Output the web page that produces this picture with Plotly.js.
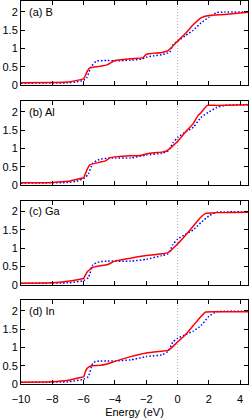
<!DOCTYPE html>
<html><head><meta charset="utf-8">
<script src="https://cdn.plot.ly/plotly-3.0.1.min.js"></script>
<style>html,body{margin:0;padding:0;background:#fff;}#c{width:249px;height:418px;}</style>
</head><body><div id="c"></div>
<script>
const panelLabels = ["(a) B", "(b) Al", "(c) Ga", "(d) In"];

const redX_a = [-10,-8,-7,-6.5,-6,-5.85,-5.75,-5.6,-5,-4.5,-4,-3,-2.2,-2,-1,-0.6,0,0.5,1,1.5,2,3,4.5];
const redY_a = [0.06,0.07,0.08,0.12,0.17,0.3,0.39,0.47,0.51,0.55,0.67,0.72,0.75,0.84,0.89,0.94,1.2,1.41,1.65,1.84,1.9,1.93,1.99];
const blueX_a = [-10,-7,-6.5,-6,-5.8,-5.5,-5.2,-4.5,-4,-3,-2.3,-2,-1.5,-1,-0.5,-0.3,0,0.5,1,1.5,2,2.5,3,4.5];
const blueY_a = [0.05,0.06,0.08,0.13,0.2,0.51,0.65,0.67,0.66,0.68,0.71,0.76,0.8,0.83,0.9,1.1,1.2,1.35,1.5,1.7,1.85,1.98,2.0,2.0];

const redX_b = [-10,-8,-7,-6.5,-6,-5.9,-5.75,-5.6,-5.4,-5,-4.6,-4.3,-4,-3,-2.5,-2,-1.5,-1,-0.7,0,0.5,1,1.3,1.5,1.9,2.5,4.5];
const redY_b = [0.06,0.07,0.1,0.15,0.2,0.3,0.45,0.55,0.58,0.62,0.66,0.75,0.77,0.8,0.8,0.85,0.88,0.9,0.93,1.19,1.45,1.68,1.9,1.98,2.18,2.18,2.2];
const blueX_b = [-10,-7,-6.5,-6,-5.7,-5.4,-5,-4.5,-4,-3,-2,-1,-0.6,-0.3,0,0.5,1,1.5,2,2.5,3,4.5];
const blueY_b = [0.05,0.07,0.1,0.17,0.3,0.6,0.7,0.73,0.74,0.74,0.82,0.87,0.93,1.15,1.3,1.45,1.58,1.85,2.0,2.12,2.18,2.2];

const redX_c = [-10,-8,-7,-6.3,-6,-5.9,-5.75,-5.6,-5.5,-5,-4.5,-4,-3,-2,-1,-0.6,0,0.5,1,1.5,1.8,2.5,4.5];
const redY_c = [0.05,0.06,0.1,0.15,0.18,0.26,0.37,0.42,0.47,0.52,0.55,0.65,0.73,0.8,0.85,0.88,1.12,1.35,1.6,1.85,1.95,1.97,1.98];
const blueX_c = [-10,-7,-6,-5.7,-5.4,-5,-4.5,-3,-2,-1,-0.6,-0.3,0,0.5,1,1.5,2,2.5,3,4.5];
const blueY_c = [0.05,0.06,0.12,0.2,0.55,0.63,0.65,0.65,0.7,0.8,0.85,1.1,1.25,1.38,1.5,1.7,1.88,1.98,1.99,1.99];

const redX_d = [-10,-8,-7,-6.3,-6,-5.9,-5.8,-5.5,-5,-4.5,-4,-3,-2,-1,-0.6,0,0.5,1,1.5,1.8,2.5,4.5];
const redY_d = [0.05,0.06,0.1,0.17,0.2,0.32,0.42,0.5,0.51,0.55,0.62,0.75,0.85,0.9,0.92,1.15,1.35,1.6,1.85,1.97,1.98,1.98];
const blueX_d = [-10,-7,-6,-5.7,-5.4,-5,-4.5,-4,-3,-2,-1,-0.6,-0.3,0,0.5,1,1.5,2,2.5,3,4.5];
const blueY_d = [0.05,0.06,0.13,0.2,0.58,0.63,0.63,0.63,0.66,0.75,0.8,0.9,1.15,1.25,1.35,1.45,1.6,1.85,1.98,1.99,1.99];

const xTicks = [-10,-8,-6,-4,-2,0,2,4];
const yTicks = [0,0.5,1,1.5,2];
const yTickText = ["0","0.5","1","1.5","2"];

const reds = [[redX_a,redY_a],[redX_b,redY_b],[redX_c,redY_c],[redX_d,redY_d]];
const blues = [[blueX_a,blueY_a],[blueX_b,blueY_b],[blueX_c,blueY_c],[blueX_d,blueY_d]];

const domains = [[0.7807,1.0],[0.5196,0.7389],[0.2585,0.4791],[0,0.2193]];
const font = {family:"Liberation Sans, Arial, sans-serif", size:11, color:"#000"};

const traces = [];
const layout = {
  width:249, height:418,
  margin:{l:21, r:1, t:1, b:34},
  paper_bgcolor:"#fff", plot_bgcolor:"#fff",
  showlegend:false, font:font,
  shapes:[], annotations:[]
};
for (let i=0;i<4;i++){
  const s = i===0 ? "" : String(i+1);
  const xa = "x"+s, ya = "y"+s;
  traces.push({x:blues[i][0], y:blues[i][1], xaxis:xa, yaxis:ya, mode:"lines",
    line:{color:"#0000ff", width:1.5, dash:"1.5px,2px", shape:"spline", smoothing:0.5}});
  traces.push({x:reds[i][0], y:reds[i][1], xaxis:xa, yaxis:ya, mode:"lines",
    line:{color:"#ff0000", width:1.5, shape:"spline", smoothing:0.5}});
  layout["xaxis"+s] = {
    range:[-10,4.5], anchor:ya, tickvals:xTicks, showticklabels:i===3,
    ticks:"inside", ticklen:4, tickcolor:"#000", mirror:"ticks", showline:true,
    linecolor:"#000", linewidth:1, showgrid:false, zeroline:false,
    tickfont:font, ticklabelstandoff:5,
    title: i===3 ? {text:"Energy (eV)", font:font, standoff:9} : undefined
  };
  layout["yaxis"+s] = {
    range:[0,2.3], domain:domains[i], anchor:xa, tickvals:yTicks, ticktext:yTickText,
    ticks:"inside", ticklen:4, tickcolor:"#000", mirror:"ticks", showline:true,
    linecolor:"#000", linewidth:1, showgrid:false, zeroline:false, tickfont:font
  };
  layout.shapes.push({type:"line", xref:xa, yref:ya+" domain", x0:0, x1:0, y0:0, y1:1,
    line:{color:"#b0b0b0", width:1, dash:"1px,2px"}, layer:"below"});
  layout.annotations.push({text:panelLabels[i], xref:xa+" domain", yref:ya+" domain",
    x:0.025, y:0.87, xanchor:"left", yanchor:"middle", showarrow:false, font:font});
}
Plotly.newPlot("c", traces, layout, {staticPlot:true, displayModeBar:false});
</script>
</body></html>
